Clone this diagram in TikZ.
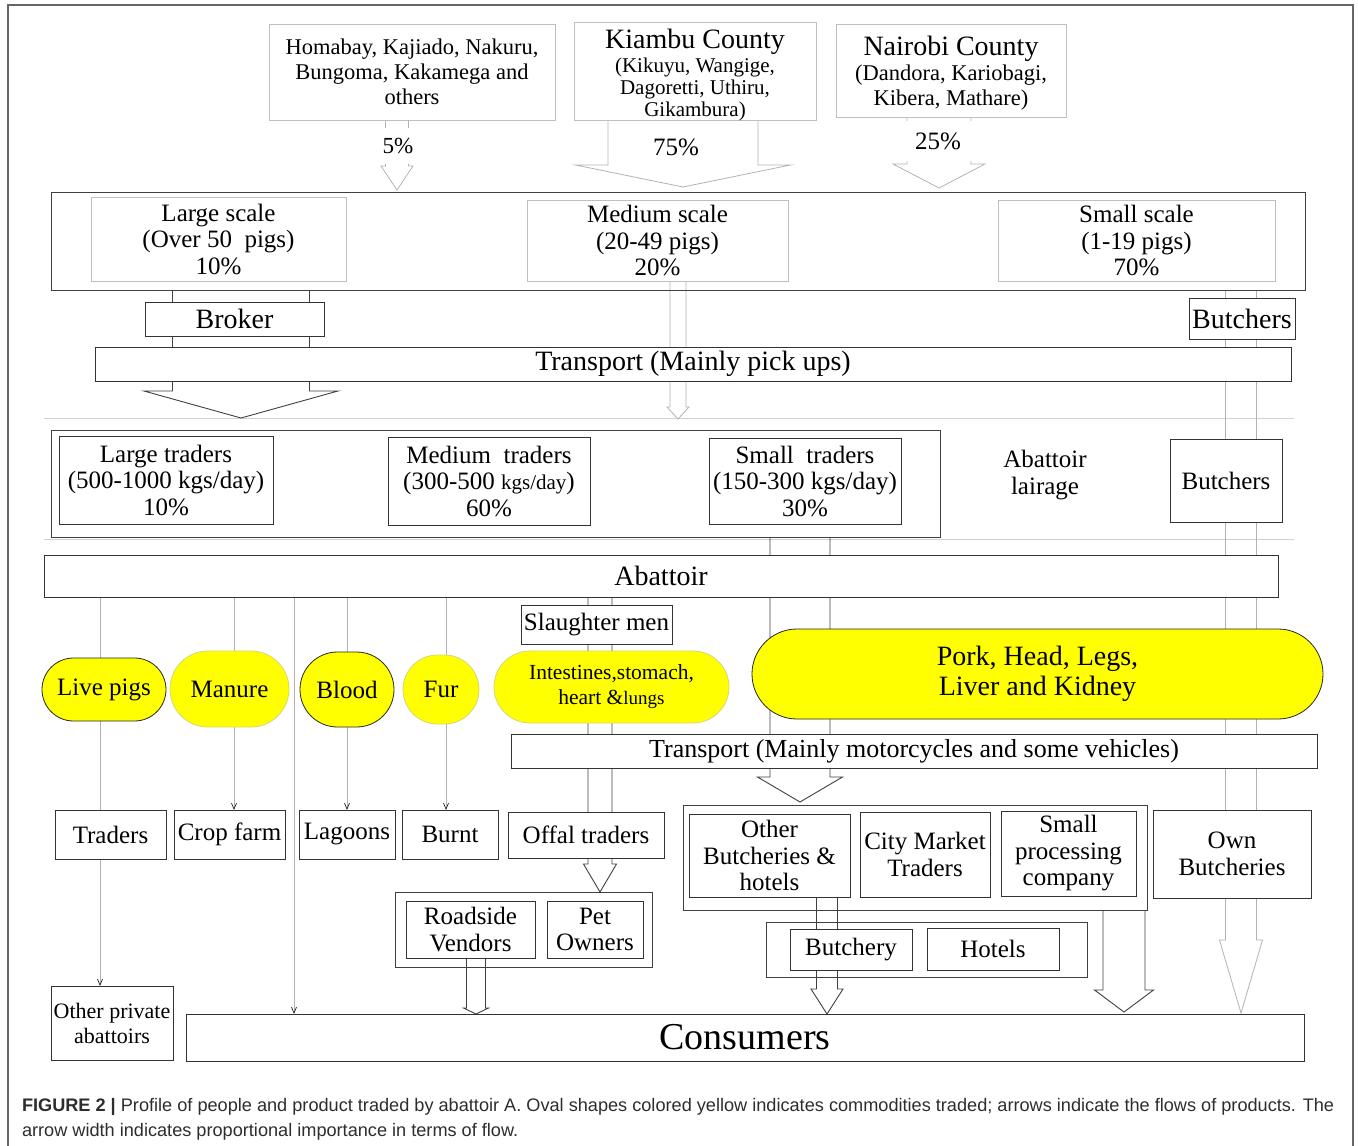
\documentclass[tikz,border=0pt]{standalone}
\usepackage{fontspec}
\setmainfont{Liberation Serif}
\setsansfont{Liberation Sans}
\usepackage{tikz}
\usetikzlibrary{calc,shapes.misc,arrows.meta,backgrounds}

\definecolor{ovaledge}{RGB}{214,214,120}
\definecolor{podfill}{RGB}{255,255,0}
\definecolor{capgray}{RGB}{45,45,45}

% block arrow: start node (only its y is used), tip, shaft half width, head half width, head length
\newcommand{\flowarrow}[6][]{%
  \draw[#1] let \p1=(#2), \p2=(#3) in
    (\x2-#4pt,\y1) -- (\x2-#4pt,\y2+#6pt) -- (\x2-#5pt,\y2+#6pt) -- (\p2)
    -- (\x2+#5pt,\y2+#6pt) -- (\x2+#4pt,\y2+#6pt) -- (\x2+#4pt,\y1);}

\begin{document}
\begin{tikzpicture}[x=1pt,y=-1pt,
  every node/.style={inner sep=0pt,outer sep=0pt,align=center},
  src/.style={draw=black!25,fill=white,line width=0.8pt},
  box/.style={draw=black!80,fill=white,line width=0.9pt},
  frame/.style={draw=black!75,line width=0.9pt},
  pod/.style={rounded rectangle,fill=podfill,line width=0.8pt},
  dark/.style={draw=black!85},
  pale/.style={draw=ovaledge},
  sm/.style={font=\fontsize{21}{22}\selectfont},
  nm/.style={font=\fontsize{22.5}{25}\selectfont},
  md/.style={font=\fontsize{25}{26.5}\selectfont},
  lg/.style={font=\fontsize{28}{30}\selectfont},
  flight/.style={draw=black!30,line width=0.8pt},
  fdark/.style={draw=black!75,line width=0.9pt},
  thin/.style={draw=black!30,line width=0.7pt,-{Straight Barb[length=6pt,width=5pt,black!85]}},
  sep/.style={draw=black!18,line width=0.8pt}]
\useasboundingbox (0,0) rectangle (1358,1146);
\draw[black!60,line width=1.2pt] (8,1146) -- (8,5) -- (1353,5) -- (1353,1146);

% sources
\node[src,nm,minimum width=286,minimum height=96] (s1) at (412,72) {Homabay, Kajiado, Nakuru,\\Bungoma, Kakamega and\\others};
\node[src,minimum width=242,minimum height=98] (s2) at (695,71) {};
\node[sm] (s2t) at (695,75) {{\fontsize{28}{28}\selectfont Kiambu County}\\[2pt](Kikuyu, Wangige,\\Dagoretti, Uthiru,\\Gikambura)};
\node[src,minimum width=230,minimum height=93] (s3) at (951,70.5) {};
\node[nm] (s3t) at (951,73.5) {{\fontsize{28}{28}\selectfont Nairobi County}\\(Dandora, Kariobagi,\\Kibera, Mathare)};

% farms
\node[frame,minimum width=1254,minimum height=98] (farm) at (678,241) {};
\node[src,md,minimum width=255,minimum height=84] (fl) at (218.5,239) {Large scale\\(Over 50\ \ pigs)\\10\%};
\node[src,md,minimum width=261,minimum height=81] (fm) at (657.5,240.5) {Medium scale\\(20-49 pigs)\\20\%};
\node[src,md,minimum width=277,minimum height=81] (fs) at (1136.5,240.5) {Small scale\\(1-19 pigs)\\70\%};

\node[box,lg,minimum width=179,minimum height=34] (brk) at (234.5,319) {Broker};
\node[box,lg,minimum width=106,minimum height=41] (bu1) at (1242,318.5) {Butchers};
\node[box,lg,minimum width=1196,minimum height=34] (tr1) at (693,364) {Transport (Mainly pick ups)};

% traders at the lairage
\node[frame,minimum width=889,minimum height=107] (trd) at (495.5,483.5) {};
\node[box,md,minimum width=214,minimum height=88] (tl) at (166,480) {Large traders\\(500-1000 kgs/day)\\10\%};
\node[box,md,minimum width=202,minimum height=88] (tm) at (489,481) {Medium\ \ traders\\(300-500 {\fontsize{21}{22}\selectfont kgs/day})\\60\%};
\node[box,md,minimum width=192,minimum height=86] (ts) at (805,481) {Small\ \ traders\\(150-300 kgs/day)\\30\%};
\node[md] (lair) at (1045,475) {Abattoir\\lairage};
\node[box,md,minimum width=112,minimum height=83] (bu2) at (1226,480.5) {Butchers};

\node[box,lg,minimum width=1234,minimum height=42] (abt) at (661,576) {Abattoir};
\node[box,md,minimum width=151,minimum height=39] (slm) at (596.5,624.5) {Slaughter men};

% products
\node[pod,dark,md,minimum width=124,minimum height=63] (live) at (104,689.5) {Live pigs};
\node[pod,pale,md,minimum width=119,minimum height=76] (man) at (229.5,689) {Manure};
\node[pod,dark,md,minimum width=94,minimum height=75] (bld) at (347,689.5) {Blood};
\node[pod,pale,md,minimum width=76,minimum height=69] (fur) at (441,689.5) {Fur};
\node[pod,pale,font=\fontsize{21.5}{25}\selectfont,minimum width=235,minimum height=72] (gut) at (611.5,687) {Intestines,stomach,\\heart \&{\fontsize{19}{20}\selectfont lungs}};
\node[pod,dark,lg,minimum width=571,minimum height=90] (pork) at (1037.5,674) {Pork, Head, Legs,\\Liver and Kidney};

\node[box,font=\fontsize{26}{28}\selectfont,minimum width=806,minimum height=34] (tr2) at (914,751) {Transport (Mainly motorcycles and some vehicles)};

% buyers
\node[box,md,minimum width=111,minimum height=49] (trs) at (110.5,834.5) {Traders};
\node[box,md,minimum width=111,minimum height=49] (crop) at (229.5,834.5) {Crop farm};
\node[box,md,minimum width=96,minimum height=49] (lag) at (347,834.5) {Lagoons};
\node[box,md,minimum width=96,minimum height=49] (brn) at (450,834.5) {Burnt};
\node[box,md,minimum width=156,minimum height=46] (off) at (586,835) {Offal traders};

\node[frame,minimum width=464,minimum height=105] (grp) at (915,857.5) {};
\node[box,md,minimum width=161,minimum height=83] (obh) at (769.5,855.5) {Other\\Butcheries \&\\hotels};
\node[box,md,minimum width=130,minimum height=85] (cmt) at (925,854.5) {City Market\\Traders};
\node[box,md,minimum width=135,minimum height=85] (spc) at (1068.5,853.5) {Small\\processing\\company};
\node[box,md,minimum width=158,minimum height=88] (own) at (1232,854) {Own\\Butcheries};

\node[frame,minimum width=321,minimum height=55] (bho) at (926.5,949.5) {};
\node[box,md,minimum width=122,minimum height=41] (bty) at (851,949.5) {Butchery};
\node[box,md,minimum width=132,minimum height=42] (htl) at (993,949) {Hotels};

\node[frame,minimum width=257,minimum height=75] (rpo) at (523.5,929.5) {};
\node[box,md,minimum width=129,minimum height=57] (road) at (470.5,929.5) {Roadside\\Vendors};
\node[box,md,minimum width=96,minimum height=57] (pet) at (595,929.5) {Pet\\Owners};

\node[box,font=\fontsize{22}{25}\selectfont,minimum width=122,minimum height=74] (opa) at (112,1023) {Other private\\abattoirs};
\node[box,font=\fontsize{38}{40}\selectfont,minimum width=1118,minimum height=47] (cons) at (745,1037.5) {Consumers};

% tips
\coordinate (t1) at (397,190);
\coordinate (t2) at (683,187);
\coordinate (t3) at (939,188);
\coordinate (t4) at (241,418);
\coordinate (t5) at (678,419);
\coordinate (t6) at (1241,1013);
\coordinate (t7) at (800,802);
\coordinate (t8) at (600,892);
\coordinate (t9) at (827,1014);
\coordinate (t10) at (1124,1012);
\coordinate (t11) at (476,1014);
\coordinate (x1) at (100,0);
\coordinate (x2) at (234,0);
\coordinate (x3) at (294,0);
\coordinate (x4) at (347,0);
\coordinate (x5) at (446,0);

\begin{scope}[on background layer]
\draw[sep] (44,418) -- (1294,418);
\draw[sep] (44,539) -- (1294,539);
\flowarrow[flight]{s1.south}{t1}{11.5}{16}{24}
\flowarrow[flight]{s2.south}{t2}{75}{107.5}{22}
\flowarrow[flight]{s3.south}{t3}{32}{46}{24}
\flowarrow[fdark]{farm.south}{t4}{68.5}{97}{27}
\flowarrow[flight]{fm.south}{t5}{8}{11}{12}
\flowarrow[flight]{farm.south}{t6}{15.5}{21.5}{73}
\flowarrow[fdark]{trd.south}{t7}{30}{42.5}{25}
\flowarrow[fdark]{abt.south}{t8}{12}{16.5}{28}
\flowarrow[fdark]{obh.south}{t9}{10.5}{16}{25}
\flowarrow[fdark]{grp.south}{t10}{21}{29.5}{22}
\flowarrow[fdark]{road.south}{t11}{9.5}{12.5}{6}
\draw[thin] (abt.south -| x1) -- (opa.north -| x1);
\draw[thin] (abt.south -| x2) -- (crop.north -| x2);
\draw[thin] (abt.south -| x3) -- (cons.north -| x3);
\draw[thin] (abt.south -| x4) -- (lag.north -| x4);
\draw[thin] (abt.south -| x5) -- (brn.north -| x5);
\end{scope}

% shares
\node[fill=white,font=\fontsize{23}{25}\selectfont,minimum width=40,minimum height=36] (p1) at (398,146) {5\%};
\node[font=\fontsize{25}{27}\selectfont] (p2) at (676,147) {75\%};
\node[fill=white,font=\fontsize{25}{27}\selectfont,minimum width=70,minimum height=40] (p3) at (938,141) {25\%};

% caption
\node[anchor=base west,text=capgray,font=\sffamily\fontsize{18.15}{20}\selectfont] (cap1) at (22,1111) {\textbf{FIGURE 2 |} Profile of people and product traded by abattoir A. Oval shapes colored yellow indicates commodities traded; arrows indicate the flows of products. The};
\node[anchor=base west,text=capgray,font=\sffamily\fontsize{18.15}{20}\selectfont] (cap2) at (22,1136) {arrow width indicates proportional importance in terms of flow.};
\end{tikzpicture}
\end{document}
